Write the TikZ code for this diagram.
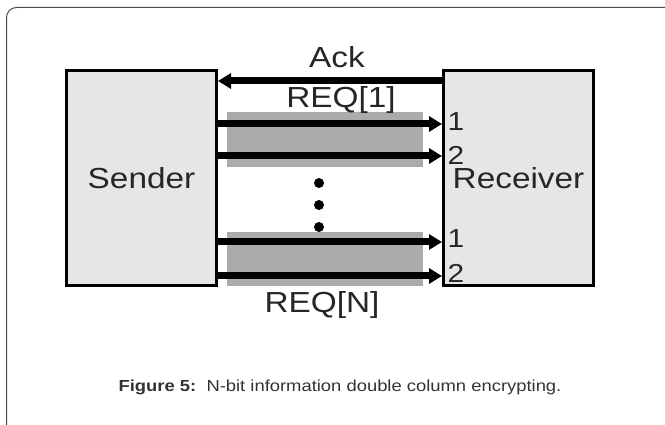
\documentclass[tikz,border=0pt]{standalone}
\usepackage{fontspec}
\setmainfont{Liberation Sans}
\usetikzlibrary{arrows.meta}
\definecolor{boxfill}{HTML}{E6E6E6}
\definecolor{bandfill}{HTML}{ABABAB}
\definecolor{inkgray}{HTML}{262626}
\newcommand{\widetxt}[1]{\scalebox{1.15}[1]{#1}}

\begin{document}
\begin{tikzpicture}[x=1pt,y=-1pt,
  unit/.style={draw=black,line width=3pt,fill=boxfill,minimum width=150pt,
    minimum height=215pt,inner sep=0pt,font=\fontsize{29}{29}\selectfont,text=inkgray},
  bus/.style={line width=7pt,-{Triangle[length=13pt,width=15pt]}},
  lbl/.style={font=\fontsize{29}{29}\selectfont,text=inkgray,inner sep=0pt},
  pin/.style={font=\fontsize{26}{26}\selectfont,text=inkgray,inner sep=0pt}]
  \useasboundingbox (0,0) rectangle (665,425);
  % outer frame
  \draw[line width=1pt,draw=black!70,rounded corners=10pt] (6.5,440) -- (6.5,7.5) -- (680,7.5);

  % units
  \node[unit] (sender) at (141.5,178) {\widetxt{Sender}};
  \node[unit] (receiver) at (518.5,178) {\widetxt{Receiver}};

  % grey bands
  \fill[bandfill] (227,112) rectangle (423,167);
  \fill[bandfill] (227,232) rectangle (423,286);

  % ack line
  \coordinate (ackin) at (receiver.west |- 0,81);
  \draw[bus] (ackin) -- (sender.east |- ackin);
  \node[lbl] (ack) at (337,57) {\widetxt{Ack}};

  % request lines
  \foreach \n/\yy in {a/124,b/156,c/242,d/276}{
    \coordinate (in\n) at (receiver.west |- 0,\yy);
    \draw[bus] (sender.east |- in\n) -- (in\n);
  }
  \node[lbl] (reqone) at (341,100) {\widetxt{REQ[1]}};
  \node[lbl] (reqn) at (322,305) {\widetxt{REQ[N]}};

  % pin numbers
  \node[pin] (pina) at (456,122) {\widetxt{1}};
  \node[pin] (pinb) at (456,155) {\widetxt{2}};
  \node[pin] (pinc) at (456,239) {\widetxt{1}};
  \node[pin] (pind) at (456,273) {\widetxt{2}};

  % dots
  \foreach \yy in {183,205,227}
    \fill (319,\yy) circle (5);

  \node[text=black!80,font=\fontsize{16}{16}\selectfont] (caption) at (340,387)
    {\widetxt{\textbf{Figure 5:}\ \ N-bit information double column encrypting.}};
\end{tikzpicture}
\end{document}
